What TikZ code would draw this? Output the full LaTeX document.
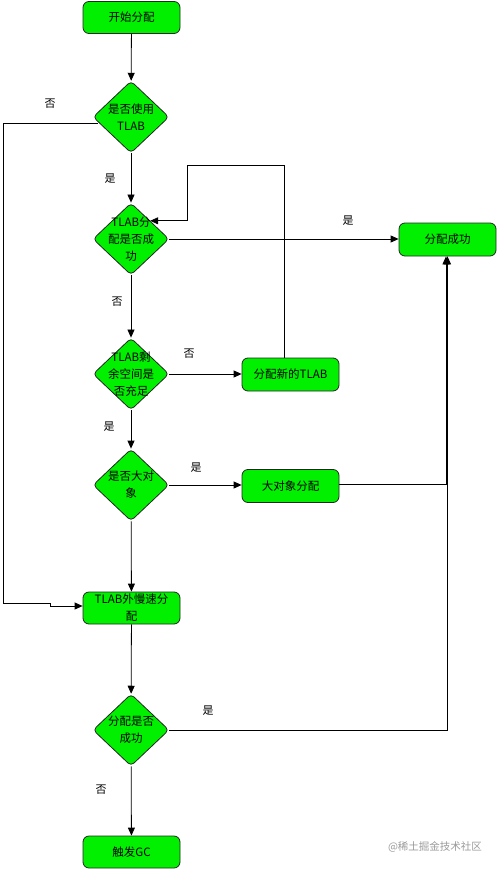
\documentclass[tikz,border=0pt]{standalone}
\usepackage{fontspec}
\setmainfont{Noto Sans CJK SC}
\usetikzlibrary{shapes.geometric,arrows.meta}
\definecolor{boxgreen}{HTML}{00F000}
\definecolor{wmgray}{HTML}{9A9A9A}
\tikzset{
  procbox/.style={draw=black!85, line width=0.8pt, fill=boxgreen, rounded corners=6pt,
    minimum width=97pt, minimum height=32pt, inner sep=0pt, align=center,
    font=\fontsize{11.5}{17}\selectfont},
  decbox/.style={draw=black!85, line width=0.8pt, fill=boxgreen, diamond, rounded corners=4pt,
    minimum width=76pt, minimum height=72pt, inner sep=0pt},
  dectext/.style={align=center, inner sep=0pt, font=\fontsize{11.5}{17}\selectfont},
  conn/.style={line width=0.8pt, -{Triangle[length=8pt,width=7pt]}},
  plain/.style={line width=0.8pt},
  lbl/.style={inner sep=0pt, font=\fontsize{11}{13}\selectfont},
}
\begin{document}
\begin{tikzpicture}[x=1pt,y=-1pt]
\useasboundingbox (0,0) rectangle (497,869);
% nodes
\node[procbox] (start) at (131.5,17.5) {开始分配};
\node[decbox] (d1) at (131,117) {};
\node[dectext] at (d1) {是否使用\\TLAB};
\node[decbox] (d2) at (131,239) {};
\node[dectext] at (d2) {TLAB分\\配是否成\\功};
\node[procbox, minimum height=33pt] (ok) at (447.5,239.5) {分配成功};
\node[decbox] (d3) at (131,374) {};
\node[dectext] at (d3) {TLAB剩\\余空间是\\否充足};
\node[procbox, minimum height=33pt] (newT) at (290.5,374.5) {分配新的TLAB};
\node[decbox] (d4) at (131,485) {};
\node[dectext] at (d4) {是否大对\\象};
\node[procbox, minimum height=33pt] (big) at (290.5,486) {大对象分配};
\node[procbox] (slow) at (131.5,608) {TLAB外慢速分\\配};
\node[decbox] (d5) at (131,730) {};
\node[dectext] at (d5) {分配是否\\成功};
\node[procbox] (gc) at (131.5,852) {触发GC};
% connectors
\draw[conn] (start) -- (d1);
\coordinate (c1) at (3,603);
\coordinate (c2) at (50,603);
\coordinate (c3) at (50,606);
\draw[conn] ([xshift=5pt,yshift=-6pt]d1.west) -| (c1) -- (c2) -- (c3) -- ([yshift=2pt]slow.west);
\draw[conn] (d1) -- (d2);
\coordinate (loopTop) at (187,165);
\draw[conn] ([xshift=-6pt]newT.north) |- (loopTop) |- (d2.north east);
\draw[conn] (d2.east) -- (d2.east -| ok.west);
\draw[conn] (d2) -- (d3);
\draw[conn] (d3.east) -- (d3.east -| newT.west);
\draw[conn] (d3) -- (d4);
\draw[conn] (d4.east) -- (d4.east -| big.west);
\draw[conn] ([yshift=2pt]big.east) -| ([xshift=-1.5pt]ok.south);
\draw[conn] (d4) -- (slow);
\draw[conn] (slow) -- (d5);
\draw[conn] (d5.east) -| (ok.south);
\draw[conn] (d5) -- (gc);
% labels
\node[lbl] (l1) at (50,104) {否};
\node[lbl] (l2) at (110,179) {是};
\node[lbl] (l3) at (348,221) {是};
\node[lbl] (l4) at (117,302) {否};
\node[lbl] (l5) at (189,354) {否};
\node[lbl] (l6) at (109,427) {是};
\node[lbl] (l7) at (196,468) {是};
\node[lbl] (l8) at (208,711) {是};
\node[lbl] (l9) at (101,790) {否};
\node[lbl, text=wmgray, font=\fontsize{10.5}{12}\selectfont] (wm) at (435,847) {@稀土掘金技术社区};
\end{tikzpicture}
\end{document}
